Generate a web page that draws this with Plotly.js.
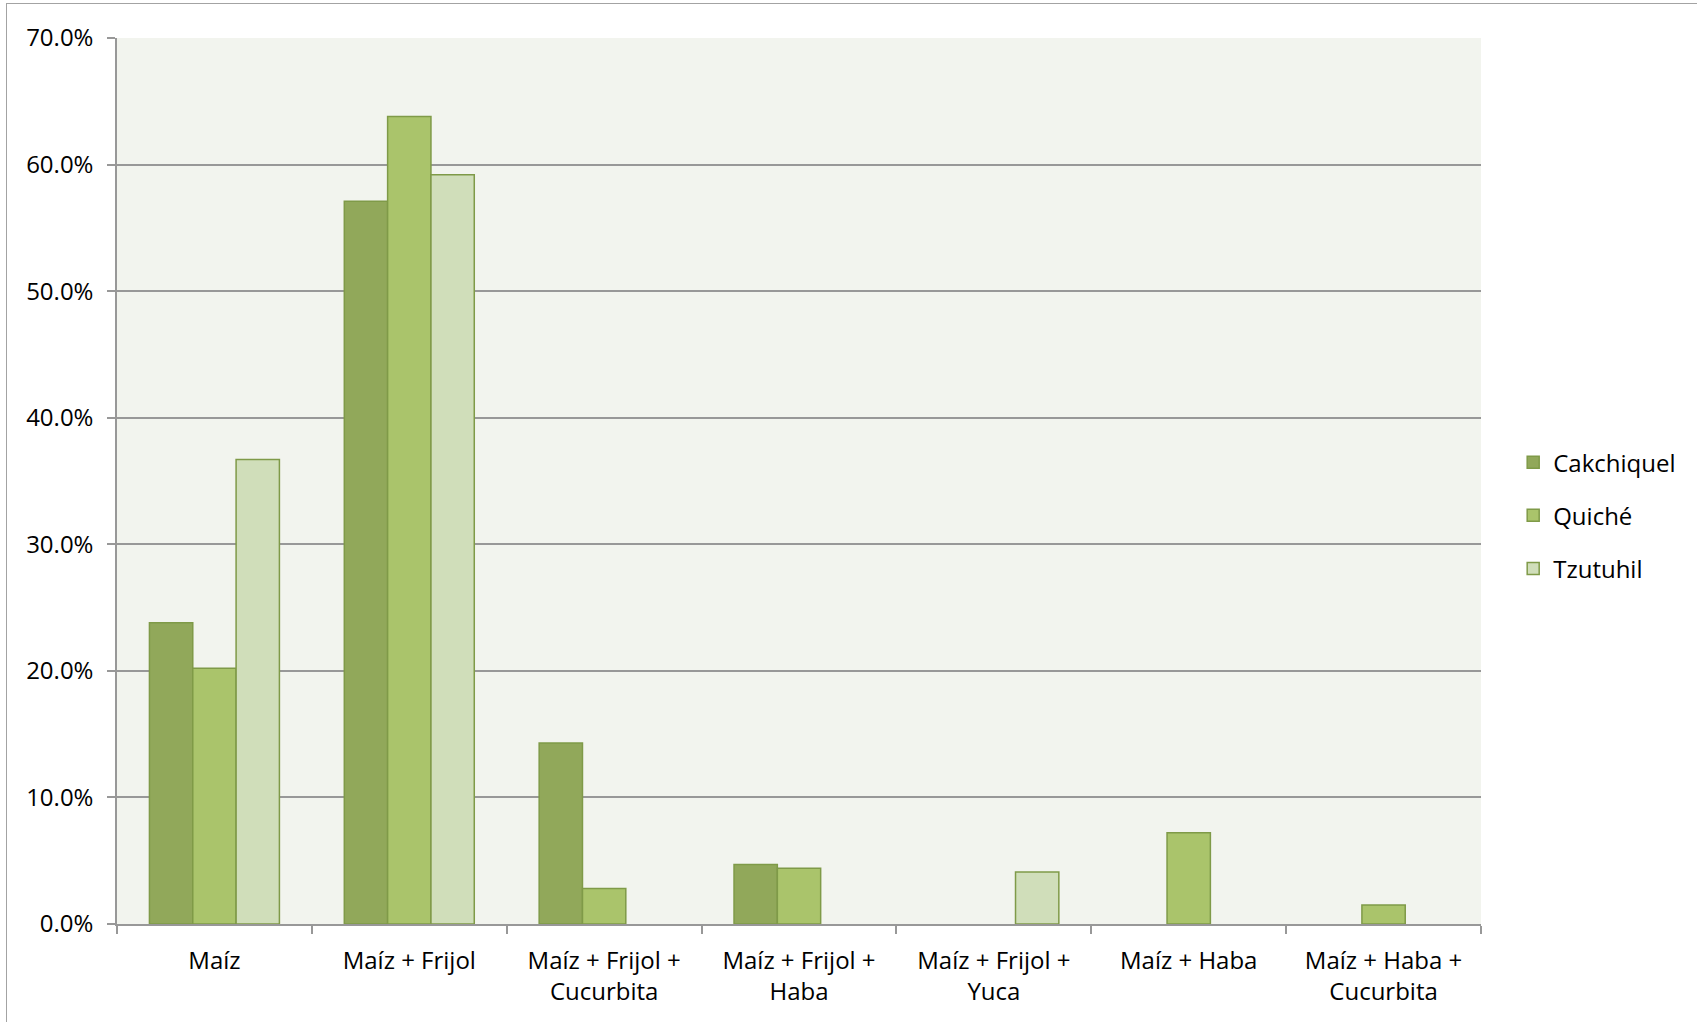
<!DOCTYPE html>
<html>
<head>
<meta charset="utf-8">
<script src="https://cdn.plot.ly/plotly-3.0.1.min.js"></script>
<style>
  html, body { margin: 0; padding: 0; background: #fff; overflow: hidden; }
  #chart { position: absolute; left: 0; top: 0; width: 1697px; height: 1022px; }
  #frame { position: absolute; left: 6px; top: 3px; width: 1720px; height: 1060px;
           border-left: 1.5px solid #a3a3a3; border-top: 1.5px solid #a3a3a3; pointer-events: none; }
</style>
</head>
<body>
<div id="chart"></div>
<div id="frame"></div>
<script>
const categories = [
  "Maíz",
  "Maíz + Frijol",
  "Maíz + Frijol +<br>Cucurbita",
  "Maíz + Frijol +<br>Haba",
  "Maíz + Frijol +<br>Yuca",
  "Maíz + Haba",
  "Maíz + Haba +<br>Cucurbita"
];
const seriesNames = ["Cakchiquel", "Quiché", "Tzutuhil"];
// null = no bar drawn for that group
const cakchiquel = [0.238, 0.571, 0.143, 0.047, null, null, null];
const quiche     = [0.202, 0.638, 0.028, 0.044, null, 0.072, 0.015];
const tzutuhil   = [0.367, 0.592, null, null, 0.041, null, null];
const yTicks = [0, 0.1, 0.2, 0.3, 0.4, 0.5, 0.6, 0.7];

const fills = ["#91a85a", "#aac46b", "#d0deba"];
const outline = "#7f9a48";
const font = "'Open Sans', 'Noto Sans', sans-serif";

const values = [cakchiquel, quiche, tzutuhil];
const traces = values.map((v, i) => ({
  type: "bar",
  name: seriesNames[i],
  x: categories,
  y: v,
  legendgroup: "g" + i,
  marker: { color: fills[i], line: { color: outline, width: 1.5 } },
  hoverinfo: "x+y+name"
}));

const layout = {
  width: 1697,
  height: 1022,
  margin: { l: 117, r: 216, t: 38, b: 98, pad: 0 },
  paper_bgcolor: "#ffffff",
  plot_bgcolor: "#f2f4ee",
  font: { family: font, size: 24, color: "#000000" },
  barmode: "group",
  bargap: 0.333,
  bargroupgap: 0,
  showlegend: true,
  legend: {
    x: 1.0236, xanchor: "left",
    y: 0.461, yanchor: "middle",
    font: { family: font, size: 24, color: "#000" },
    bgcolor: "rgba(0,0,0,0)",
    traceorder: "grouped",
    tracegroupgap: 19,
    itemwidth: 30
  },
  xaxis: {
    type: "category",
    categoryorder: "array",
    categoryarray: categories,
    showline: true, linecolor: "#989898", linewidth: 1.5,
    ticks: "outside", tickson: "boundaries", ticklen: 8, tickwidth: 1.5, tickcolor: "#989898",
    showgrid: false,
    tickfont: { family: font, size: 24, color: "#000" },
    ticklabelstandoff: 14,
    fixedrange: true
  },
  yaxis: {
    range: [0, 0.7],
    tickvals: yTicks,
    tickformat: ".1%",
    showline: true, linecolor: "#989898", linewidth: 1.5,
    ticks: "outside", ticklen: 8, tickwidth: 1.5, tickcolor: "#989898",
    showgrid: true, gridcolor: "#989898", gridwidth: 1.5,
    zeroline: false,
    tickfont: { family: font, size: 24, color: "#000" },
    ticklabelstandoff: 9,
    fixedrange: true
  }
};

Plotly.newPlot("chart", traces, layout, { displayModeBar: false });
</script>
</body>
</html>
